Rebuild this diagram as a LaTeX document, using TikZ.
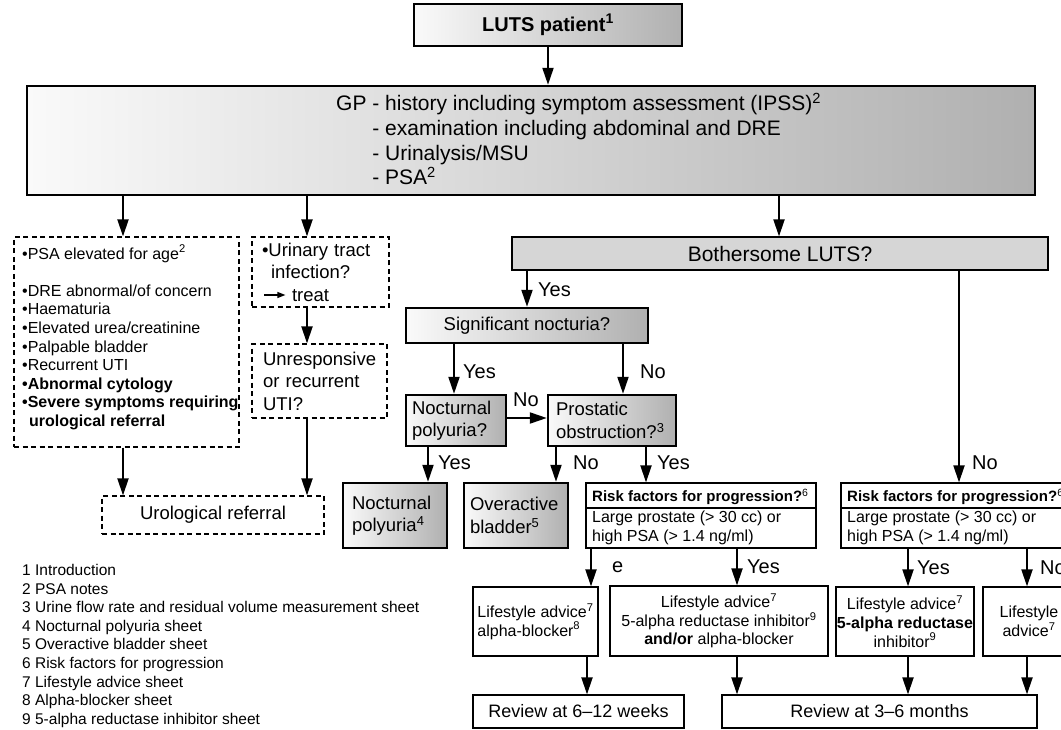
\documentclass[tikz,border=0pt]{standalone}
\usepackage{fontspec}
\setmainfont{Liberation Sans}
\usetikzlibrary{arrows.meta}
\newcommand\szBig{\fontsize{21}{24.7}\selectfont}
\newcommand\szMid{\fontsize{18.5}{22.5}\selectfont}
\newcommand\szLab{\fontsize{20}{24}\selectfont}
\newcommand\szSm{\fontsize{16}{18.6}\selectfont}
\newcommand\szLeg{\fontsize{15.5}{18.6}\selectfont}
\newcommand\szTit{\fontsize{15}{18}\selectfont}
\newcommand\szRev{\fontsize{18}{21}\selectfont}
\newcommand\sups[1]{\textsuperscript{#1}}
\begin{document}
\begin{tikzpicture}[x=1pt,y=-1pt,
  tbox/.style={draw,line width=2.4pt,left color=black!2,right color=black!31,inner sep=0pt},
  nbox/.style={draw,line width=1.2pt,fill=white,inner sep=0pt},
  gbox/.style={draw,line width=1.2pt,fill=black!16,inner sep=0pt},
  dbox/.style={draw,line width=1.2pt,dash pattern=on 5pt off 3.5pt,inner sep=0pt},
  arr/.style={line width=2pt,-{Triangle[length=17pt,width=11pt]}},
  lab/.style={font=\szLab,inner sep=0pt,anchor=west},
  txt/.style={inner sep=0pt,align=left,anchor=west}]
\useasboundingbox (0,0) rectangle (1061,730);
\clip (0,0) rectangle (1061,730);

% top
\node[tbox,minimum width=268pt,minimum height=42pt,font=\szLab\bfseries] (luts) at (548,25) {LUTS patient\sups{1}};
\node[tbox,minimum width=1008pt,minimum height=109pt] (gp) at (531,140.5) {};
\node[txt,font=\szBig] (gpt) at (336,139) {GP - history including symptom assessment (IPSS)\sups{2}\\
\phantom{GP }- examination including abdominal and DRE\\
\phantom{GP }- Urinalysis/MSU\\
\phantom{GP }- PSA\sups{2}};

% left column
\node[dbox,minimum width=225pt,minimum height=210pt] (d1) at (126.5,342) {};
\node[txt,font=\szSm] (d1t) at (22,337.5) {\textbullet PSA elevated for age\sups{2}\\[18.6pt]
\textbullet DRE abnormal/of concern\\
\textbullet Haematuria\\
\textbullet Elevated urea/creatinine\\
\textbullet Palpable bladder\\
\textbullet Recurrent UTI\\
\textbf{\textbullet Abnormal cytology}\\
\textbf{\textbullet Severe symptoms requiring}\\
\textbf{\hspace*{7pt}urological referral}};
\node[dbox,minimum width=137pt,minimum height=70pt,font=\szMid,align=left,text width=117pt,inner xsep=10pt] (d2) at (320.5,272) {\textbullet Urinary tract\\ \hspace*{9pt}infection?\\ \hspace*{30pt}treat};
\draw[line width=1.3pt,-{Triangle[length=8pt,width=6pt]}] (d2.west |- 0,295) ++(13,0) -- ++(21,0);
\node[dbox,minimum width=135pt,minimum height=74pt,font=\szMid,align=left,text width=113pt,inner xsep=11pt] (d3) at (319.5,381) {Unresponsive\\ or recurrent\\ UTI?};
\node[dbox,minimum width=222pt,minimum height=38pt,font=\szMid] (uro) at (213,515) {Urological referral};

% middle
\node[gbox,minimum width=536pt,minimum height=33pt,font=\szBig] (both) at (780,253.5) {Bothersome LUTS?};
\node[tbox,minimum width=242pt,minimum height=35pt,font=\szMid] (sig) at (527,325.5) {Significant nocturia?};
\node[tbox,minimum width=100pt,minimum height=51pt,font=\szMid,align=left,text width=88pt,inner xsep=6pt] (np) at (456,420.5) {Nocturnal\\polyuria?};
\node[tbox,minimum width=128pt,minimum height=51pt,font=\szMid,align=left,text width=112pt,inner xsep=8pt] (po) at (612,420.5) {Prostatic\\obstruction?\sups{3}};
\node[tbox,minimum width=104pt,minimum height=65pt,font=\szMid,align=left,text width=86pt,inner xsep=9pt] (npf) at (395,515.5) {Nocturnal\\polyuria\sups{4}};
\node[tbox,minimum width=104pt,minimum height=65pt,font=\szMid,align=left,text width=92pt,inner xsep=6pt] (oab) at (516,515.5) {Overactive\\bladder\sups{5}};

% risk boxes
\node[nbox,minimum width=230pt,minimum height=65pt] (r1) at (701,515.5) {};
\draw[line width=1.2pt] (r1.west |- 0,508) -- (r1.east |- 0,508);
\node[txt,font=\szTit\bfseries] (r1t) at (592,497) {Risk factors for progression?\sups{\mdseries 6}};
\node[txt,font=\szSm] (r1b) at (592,528) {Large prostate (> 30 cc) or\\high PSA (> 1.4 ng/ml)};
\node[nbox,minimum width=230pt,minimum height=65pt] (r2) at (956,515.5) {};
\draw[line width=1.2pt] (r2.west |- 0,508) -- (r2.east |- 0,508);
\node[txt,font=\szTit\bfseries] (r2t) at (847,497) {Risk factors for progression?\sups{\mdseries 6}};
\node[txt,font=\szSm] (r2b) at (847,528) {Large prostate (> 30 cc) or\\high PSA (> 1.4 ng/ml)};

% treatment boxes
\node[nbox,minimum width=125pt,minimum height=69pt,font=\szSm,align=left] (la1) at (535.5,621.5) {Lifestyle advice\sups{7}\\alpha-blocker\sups{8}};
\node[nbox,minimum width=218pt,minimum height=70pt,font=\szSm,align=center] (la2) at (719,621) {Lifestyle advice\sups{7}\\5-alpha reductase inhibitor\sups{9}\\\textbf{and/or} alpha-blocker};
\node[nbox,minimum width=138pt,minimum height=69pt,font=\szSm,align=center] (la3) at (905,621.5) {Lifestyle advice\sups{7}\\\textbf{5-alpha reductase}\\inhibitor\sups{9}};
\node[nbox,minimum width=92pt,minimum height=69pt,font=\szSm,align=center] (la4) at (1029,621.5) {Lifestyle\\advice\sups{7}};
\node[nbox,minimum width=211pt,minimum height=33pt,font=\szRev] (rev1) at (578.5,711.5) {Review at 6--12 weeks};
\node[nbox,minimum width=315pt,minimum height=33pt,font=\szRev] (rev2) at (879.5,711.5) {Review at 3--6 months};

% legend
\node[txt,anchor=north west,font=\szLeg] (leg) at (22,564) {1 Introduction\\
2 PSA notes\\
3 Urine flow rate and residual volume measurement sheet\\
4 Nocturnal polyuria sheet\\
5 Overactive bladder sheet\\
6 Risk factors for progression\\
7 Lifestyle advice sheet\\
8 Alpha-blocker sheet\\
9 5-alpha reductase inhibitor sheet};

% connectors
\draw[arr] (luts.south) -- (luts.south |- gp.north);
\draw[arr] (gp.south -| 123,0) -- (d1.north -| 123,0);
\draw[arr] (gp.south -| 307,0) -- (d2.north -| 307,0);
\draw[arr] (gp.south -| 779,0) -- (both.north -| 779,0);
\draw[arr] (d2.south -| 307,0) -- (d3.north -| 307,0);
\draw[arr] (d1.south -| 123,0) -- (uro.north -| 123,0);
\draw[arr] (d3.south -| 307,0) -- (uro.north -| 307,0);
\draw[arr] (both.south -| 527,0) -- (sig.north -| 527,0);
\draw[arr] (both.south -| 959,0) -- (r2.north -| 959,0);
\draw[arr] (sig.south -| 454,0) -- (np.north -| 454,0);
\draw[arr] (sig.south -| 623,0) -- (po.north -| 623,0);
\draw[arr] (np.east |- 0,418) -- (po.west |- 0,418);
\draw[arr] (np.south -| 428,0) -- (npf.north -| 428,0);
\draw[arr] (po.south -| 556,0) -- (oab.north -| 556,0);
\draw[arr] (po.south -| 646,0) -- (r1.north -| 646,0);
\draw[arr] (r1.south -| 591,0) -- (la1.north -| 591,0);
\draw[arr] (r1.south -| 737,0) -- (la2.north -| 737,0);
\draw[arr] (la1.south -| 587,0) -- (rev1.north -| 587,0);
\draw[arr] (la2.south -| 737,0) -- (rev2.north -| 737,0);
\draw[arr] (r2.south -| 908,0) -- (la3.north -| 908,0);
\draw[arr] (r2.south -| 1027,0) -- (la4.north -| 1027,0);
\draw[arr] (la3.south -| 908,0) -- (rev2.north -| 908,0);
\draw[arr] (la4.south -| 1027,0) -- (rev2.north -| 1027,0);

% labels
\node[lab] (y1) at (538,290) {Yes};
\node[lab] (y2) at (463,372) {Yes};
\node[lab] (n1) at (640,372) {No};
\node[lab,anchor=center] (n2) at (526,400) {No};
\node[lab] (y3) at (438,463) {Yes};
\node[lab] (n3) at (573,463) {No};
\node[lab] (y4) at (657,463) {Yes};
\node[lab] (n4) at (972,463) {No};
\node[lab] (e1) at (612,567) {e};
\node[lab] (y5) at (747,567) {Yes};
\node[lab] (y6) at (917,568) {Yes};
\node[lab] (n5) at (1040,568) {No};
\end{tikzpicture}
\end{document}
